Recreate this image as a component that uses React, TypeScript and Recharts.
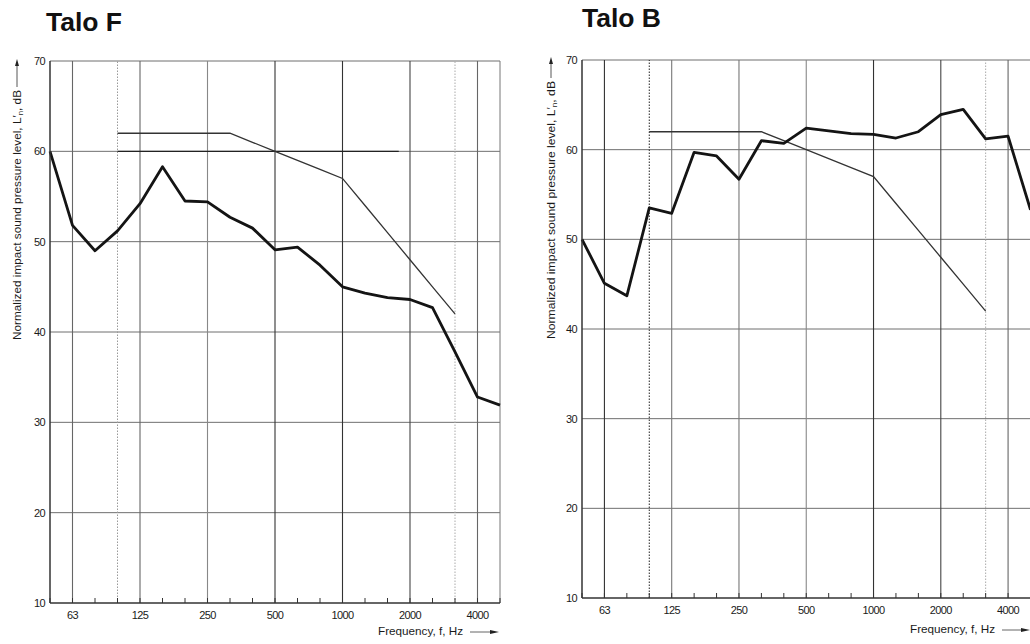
import { LineChart, Line, XAxis, YAxis, ReferenceLine } from 'recharts';

// third-octave bands, 50 Hz .. 5000 Hz
const bands = ['50', '63', '80', '100', '125', '160', '200', '250', '315', '400', '500', '630', '800', '1000', '1250', '1600', '2000', '2500', '3150', '4000', '5000'];
const octaveLabels = ['63', '125', '250', '500', '1000', '2000', '4000'];
const dottedBands = ['100', '3150'];
const yTicks = [10, 20, 30, 40, 50, 60, 70];

// measured L'n, dB
const taloF = [60.0, 51.8, 49.0, 51.2, 54.2, 58.3, 54.5, 54.4, 52.7, 51.5, 49.1, 49.4, 47.4, 45.0, 44.3, 43.8, 43.6, 42.7, 37.8, 32.8, 31.9];
const taloB = [50.0, 45.1, 43.7, 53.5, 52.9, 59.7, 59.3, 56.7, 61.0, 60.7, 62.4, 62.1, 61.8, 61.7, 61.3, 62.0, 63.9, 64.5, 61.2, 61.5, 53.3];
// ISO 717-2 reference curve
const reference = [null, null, null, 62, 62, 62, 62, 62, 62, 61, 60, 59, 58, 57, 54, 51, 48, 45, 42, null, null];

const FONT = '"Liberation Sans", Arial, sans-serif';
const tickStyle = { fontSize: 11, fill: '#1a1a1a', fontFamily: FONT, letterSpacing: -0.6 };

const buildData = (measured: number[]) =>
  bands.map((f, i) => ({ i, f, measured: measured[i], ref: reference[i] }));

// small inward tick mark for every third-octave band
const MinorTick = (props: any) => {
  const { x, payload, tickX } = props;
  return <g />;
};

type ChartProps = {
  measured: number[];
  left: number;
  width: number;
  height: number;
  margin: { top: number; right: number; bottom: number; left: number };
  shades: Record<string, string>;
  darkSegment?: [number, number, number];
};

const SoundChart = ({ measured, left, width, height, margin, shades, darkSegment }: ChartProps) => {
  const data = buildData(measured);
  const octaveIdx = octaveLabels.map((l) => bands.indexOf(l));
  const dottedIdx = dottedBands.map((l) => bands.indexOf(l));
  const last = bands.length - 1;

  return (
    <div style={{ position: 'absolute', left, top: 0 }}>
      <LineChart width={width} height={height} data={data} margin={margin}>
        <XAxis
          dataKey="i"
          type="number"
          domain={[0, last]}
          ticks={octaveIdx}
          interval={0}
          tickFormatter={(v) => bands[v]}
          axisLine={{ stroke: '#333', strokeWidth: 1.5 }}
          tickLine={false}
          tickSize={0}
          tickMargin={8}
          height={30}
          tick={tickStyle}
        />
        <XAxis
          xAxisId="minor"
          dataKey="i"
          type="number"
          domain={[0, last]}
          ticks={bands.map((_, i) => i)}
          interval={0}
          mirror
          tick={MinorTick}
          tickLine={{ stroke: '#333', strokeWidth: 1 }}
          tickSize={5}
          axisLine={false}
          height={1}
        />
        <YAxis
          type="number"
          domain={[10, 70]}
          ticks={yTicks}
          interval={0}
          axisLine={{ stroke: '#333', strokeWidth: 1.5 }}
          tickLine={false}
          tickSize={0}
          tickMargin={5}
          width={20}
          tick={tickStyle}
        />
        {yTicks.slice(1).map((v) => (
          <ReferenceLine key={'h' + v} y={v} stroke="#6f6f6f" strokeWidth={1} />
        ))}
        {octaveIdx.map((idx) => (
          <ReferenceLine key={'v' + idx} x={idx} stroke={shades[bands[idx]] || '#666'} strokeWidth={1.1} />
        ))}
        {dottedIdx.map((idx) => (
          <ReferenceLine
            key={'d' + idx}
            x={idx}
            stroke={shades[bands[idx]] || '#888'}
            strokeWidth={1}
            strokeDasharray="1.5 1.5"
          />
        ))}
        <ReferenceLine x={last} stroke="#777" strokeWidth={1} />
        {darkSegment && (
          <ReferenceLine
            segment={[
              { x: darkSegment[0], y: darkSegment[2] },
              { x: darkSegment[1], y: darkSegment[2] },
            ]}
            stroke="#222"
            strokeWidth={1.1}
          />
        )}
        <Line
          type="linear"
          dataKey="ref"
          stroke="#333"
          strokeWidth={1.3}
          dot={false}
          activeDot={false}
          isAnimationActive={false}
        />
        <Line
          type="linear"
          dataKey="measured"
          stroke="#141414"
          strokeWidth={2.8}
          strokeLinejoin="round"
          dot={false}
          activeDot={false}
          isAnimationActive={false}
        />
      </LineChart>
    </div>
  );
};

const YLabel = ({ x, bottom, top, arrowTop }: { x: number; bottom: number; top: number; arrowTop: number }) => (
  <g>
    <text
      transform={`translate(${x + 4},${bottom}) rotate(-90)`}
      fontSize={10.5}
      fontFamily={FONT}
      fill="#1a1a1a"
      textLength={bottom - top}
      lengthAdjust="spacingAndGlyphs"
    >
      Normalized impact sound pressure level, L′<tspan fontSize={7} dy={2}>n</tspan>
      <tspan dy={-2}>, dB</tspan>
    </text>
    <line x1={x} x2={x} y1={top - 3} y2={arrowTop + 5} stroke="#444" strokeWidth={0.9} />
    <polygon points={`${x},${arrowTop} ${x - 2},${arrowTop + 7} ${x + 2},${arrowTop + 7}`} fill="#222" />
  </g>
);

const XLabel = ({ x, y, arrowEnd }: { x: number; y: number; arrowEnd: number }) => (
  <g>
    <text x={x} y={y} fontSize={10.5} fontFamily={FONT} fill="#1a1a1a" textLength={85} lengthAdjust="spacingAndGlyphs">
      Frequency, f, Hz
    </text>
    <line x1={x + 92} x2={arrowEnd - 6} y1={y - 3} y2={y - 3} stroke="#555" strokeWidth={0.9} />
    <polygon points={`${arrowEnd},${y - 3} ${arrowEnd - 9},${y - 5} ${arrowEnd - 9},${y - 1}`} fill="#222" />
  </g>
);

export default function App() {
  return (
    <div
      style={{
        position: 'absolute',
        left: 0,
        top: 0,
        width: 1030,
        height: 644,
        overflow: 'hidden',
        background: '#fff',
      }}
    >
      <SoundChart
        measured={taloF}
        left={0}
        width={520}
        height={644}
        margin={{ top: 61, right: 20, bottom: 11, left: 30 }}
        shades={{ '63': '#666', '125': '#666', '250': '#888', '500': '#333', '1000': '#333', '2000': '#444', '4000': '#666', '100': '#999', '3150': '#aaa' }}
        darkSegment={[3, 15.5, 60]}
      />
      <SoundChart
        measured={taloB}
        left={530}
        width={510}
        height={644}
        margin={{ top: 60, right: 9.5, bottom: 16, left: 32 }}
        shades={{ '63': '#333', '125': '#777', '250': '#777', '500': '#888', '1000': '#333', '2000': '#444', '4000': '#666', '100': '#222', '3150': '#aaa' }}
      />
      <svg width={1030} height={644} style={{ position: 'absolute', left: 0, top: 0, pointerEvents: 'none' }}>
        <text x={46} y={30.5} fontSize={26.5} fontWeight="bold" fontFamily={FONT} fill="#111">
          Talo F
        </text>
        <text x={582} y={26.5} fontSize={26.5} fontWeight="bold" fontFamily={FONT} fill="#111">
          Talo B
        </text>
        <YLabel x={17} bottom={340} top={90} arrowTop={59} />
        <YLabel x={551} bottom={339} top={81} arrowTop={57} />
        <XLabel x={378} y={635} arrowEnd={499} />
        <XLabel x={910} y={633} arrowEnd={1030} />
      </svg>
    </div>
  );
}
